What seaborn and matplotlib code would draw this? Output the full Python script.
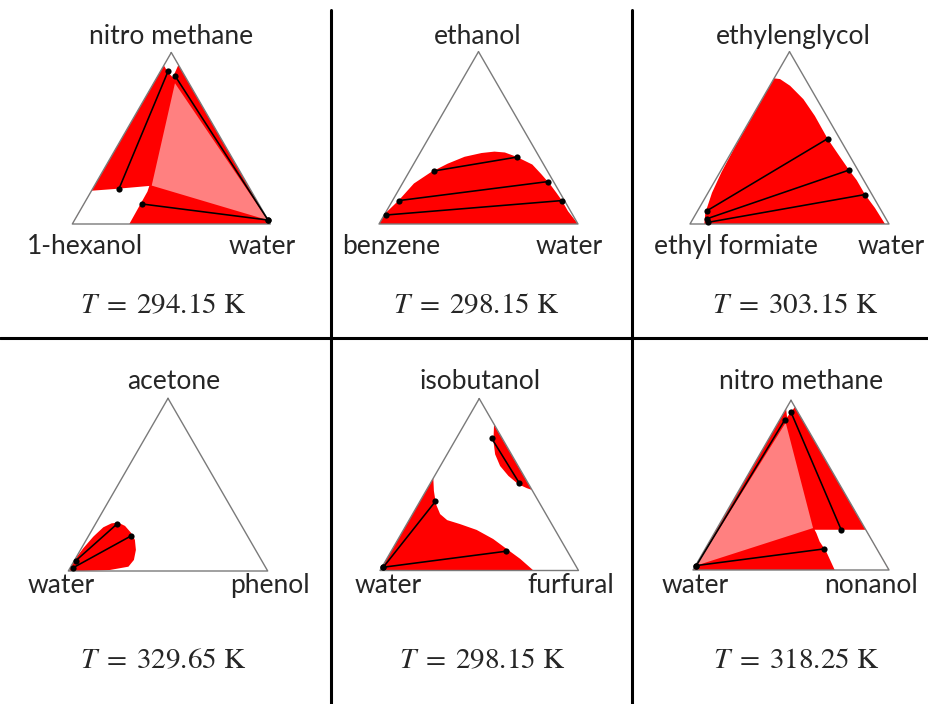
import numpy as np
import pandas as pd
import matplotlib
matplotlib.use("Agg")
import matplotlib.pyplot as plt
from matplotlib.lines import Line2D
import seaborn as sns

sns.set_style("white")
plt.rcParams["font.family"] = ["Lato", "DejaVu Sans"]
plt.rcParams["mathtext.fontset"] = "stix"

# Compositions are written as (x_top, x_right); x_left = 1 - x_top - x_right.
top_names = ["nitro methane", "ethanol", "ethylenglycol", "acetone", "isobutanol", "nitro methane"]
left_names = ["1-hexanol", "benzene", "ethyl formiate", "water", "water", "water"]
right_names = ["water", "water", "water", "phenol", "furfural", "nonanol"]
temperatures = [294.15, 298.15, 303.15, 329.65, 298.15, 318.25]

FULL = [(1.0, 0.0), (0.0, 0.0), (0.0, 1.0)]

# two-liquid regions
gap_1 = [FULL]
gap_2 = [[(0.0, 0.0), (0.060, 0.0), (0.138, 0.031), (0.235, 0.058), (0.300, 0.110), (0.350, 0.170),
          (0.390, 0.235), (0.412, 0.310), (0.420, 0.370), (0.415, 0.425), (0.390, 0.496),
          (0.345, 0.598), (0.290, 0.670), (0.230, 0.745), (0.181, 0.801), (0.138, 0.849),
          (0.074, 0.913), (0.0, 1.0)]]
gap_3 = [[(0.845, 0.0), (0.841, 0.032), (0.802, 0.102), (0.724, 0.208), (0.627, 0.314), (0.495, 0.444),
          (0.404, 0.543), (0.313, 0.643), (0.254, 0.711), (0.171, 0.794), (0.093, 0.883), (0.0, 0.980),
          (0.0, 0.072), (0.064, 0.045), (0.181, 0.020), (0.30, 0.008), (0.45, 0.002)]]
gap_4 = [[(0.006, 0.005), (0.029, 0.0), (0.068, 0.0), (0.131, 0.009), (0.199, 0.026), (0.253, 0.049),
          (0.276, 0.079), (0.280, 0.111), (0.261, 0.154), (0.222, 0.203), (0.180, 0.244),
          (0.122, 0.278), (0.064, 0.297), (0.025, 0.289), (0.006, 0.206), (0.0, 0.075), (0.0, 0.0)]]
gap_5 = [[(0.0, 0.0), (0.537, 0.0), (0.463, 0.040), (0.386, 0.089), (0.328, 0.139), (0.293, 0.192),
          (0.270, 0.268), (0.236, 0.369), (0.183, 0.479), (0.125, 0.576), (0.068, 0.672), (0.0, 0.773)],
         [(0.849, 0.150), (0.753, 0.195), (0.676, 0.242), (0.608, 0.301), (0.550, 0.372),
          (0.502, 0.446), (0.479, 0.500), (0.469, 0.530)]]
gap_6 = [FULL]
gaps = [gap_1, gap_2, gap_3, gap_4, gap_5, gap_6]

# homogeneous areas inside the two-liquid regions
holes_1 = [[(0.0, 0.0), (0.194, 0.0), (0.205, 0.12), (0.222, 0.278), (0.189, 0.285), (0.0, 0.288)],
           [(1.0, 0.0), (0.925, 0.0), (0.885, 0.04), (0.855, 0.08), (0.928, 0.072)]]
holes_6 = [[(0.237, 0.502), (0.237, 0.763), (0.0, 1.0), (0.0, 0.723), (0.108, 0.626),
            (0.168, 0.562), (0.217, 0.521)],
           [(1.0, 0.0), (0.95, 0.0), (0.90, 0.03), (0.93, 0.035), (0.96, 0.04)]]
holes = [holes_1, [], [], [], [], holes_6]

# three-liquid triangles
three_phase = [[(0.821, 0.108), (0.224, 0.289), (0.023, 0.975)], None, None, None, None,
               [(0.868, 0.039), (0.247, 0.489), (0.026, 0.004)]]

# tie lines: pairs of coexisting compositions
ties_1 = [((0.893, 0.038), (0.206, 0.133)), ((0.864, 0.087), (0.023, 0.977)),
          ((0.117, 0.292), (0.023, 0.977))]
ties_2 = [((0.308, 0.124), (0.388, 0.498)), ((0.136, 0.033), (0.246, 0.725)),
          ((0.052, 0.008), (0.136, 0.852))]
ties_3 = [((0.078, 0.048), (0.495, 0.444)), ((0.031, 0.071), (0.313, 0.643)),
          ((0.010, 0.087), (0.171, 0.794))]
ties_4 = [((0.060, 0.008), (0.274, 0.109)), ((0.019, 0.015), (0.203, 0.213))]
ties_5 = [((0.019, 0.007), (0.402, 0.078)), ((0.019, 0.007), (0.112, 0.579)),
          ((0.768, 0.179), (0.510, 0.446))]
ties_6 = [((0.884, 0.026), (0.026, 0.004)), ((0.931, 0.034), (0.233, 0.641)),
          ((0.026, 0.004), (0.124, 0.605))]
ties = [ties_1, ties_2, ties_3, ties_4, ties_5, ties_6]

# layout in pixels: bottom-left vertex, edge length, cell box
FIG_W, FIG_H = 929, 704
corners = [(72.3, 224), (379, 224), (690, 224), (68.3, 571), (380, 570.5), (693, 570)]
edges = [198, 199, 199, 199.4, 198.5, 196]
cells = [(0, 0, 331, 338), (331, 0, 632, 338), (632, 0, 929, 338),
         (0, 338, 331, 704), (331, 338, 632, 704), (632, 338, 929, 704)]
top_pos = [(171, 44), (478, 44), (793, 44), (174, 389), (480, 389), (801, 389)]
left_pos = [(84.5, 254), (391, 254), (736, 254), (61, 593), (388, 593), (695, 593)]
right_pos = [(262, 254), (569, 254), (891, 254), (269.5, 593), (571, 593), (871, 593)]
temp_pos = [(163, 313), (476, 313), (795, 313), (163, 668), (482, 668), (796, 668)]

RED = "#ff0000"
LIGHT = "#ff8080"
EDGE = "#7a7a7a"
H = np.sqrt(3) / 2


def to_xy(points):
    arr = np.asarray(points, dtype=float)
    top, right = arr[:, 0], arr[:, 1]
    return right + 0.5 * top, H * top


fig = plt.figure(figsize=(FIG_W / 100, FIG_H / 100), dpi=100)


def fig_xy(px, py):
    return px / FIG_W, 1 - py / FIG_H


for i in range(6):
    lx, by = corners[i]
    w = edges[i]
    cx0, cy0, cx1, cy1 = cells[i]
    ax = fig.add_axes([cx0 / FIG_W, 1 - cy1 / FIG_H, (cx1 - cx0) / FIG_W, (cy1 - cy0) / FIG_H])
    ax.set_xlim((cx0 - lx) / w, (cx1 - lx) / w)
    ax.set_ylim((by - cy1) / w, (by - cy0) / w)
    ax.axis("off")

    for poly in gaps[i]:
        x, y = to_xy(poly)
        ax.fill(x, y, color=RED, lw=0, zorder=1)
    for poly in holes[i]:
        x, y = to_xy(poly)
        ax.fill(x, y, color="white", lw=0, zorder=2)
    if three_phase[i] is not None:
        x, y = to_xy(three_phase[i])
        ax.fill(x, y, color=LIGHT, lw=0, zorder=3)

    x, y = to_xy(FULL + [FULL[0]])
    ax.plot(x, y, color=EDGE, lw=1.0, zorder=4)

    rows = []
    for k, (a, b) in enumerate(ties[i]):
        for p in (a, b):
            px, py = to_xy([p])
            rows.append({"x": px[0], "y": py[0], "tie": k})
    df = pd.DataFrame(rows)
    sns.lineplot(data=df, x="x", y="y", units="tie", estimator=None, sort=False,
                 color="black", lw=1.15, ax=ax, zorder=5)
    sns.scatterplot(data=df, x="x", y="y", color="black", s=20, linewidth=0, ax=ax, zorder=6)
    ax.set_xlabel("")
    ax.set_ylabel("")
    ax.axis("off")

    fs = 19
    fig.text(*fig_xy(*top_pos[i]), top_names[i], ha="center", va="baseline", fontsize=fs)
    fig.text(*fig_xy(*left_pos[i]), left_names[i], ha="center", va="baseline", fontsize=fs)
    fig.text(*fig_xy(*right_pos[i]), right_names[i], ha="center", va="baseline", fontsize=fs)
    fig.text(*fig_xy(*temp_pos[i]), rf"$T\;=\;{temperatures[i]:.2f}\ \mathrm{{K}}$",
             ha="center", va="baseline", fontsize=21)

# panel separators
for xv in (331, 632):
    fig.add_artist(Line2D([xv / FIG_W] * 2, [0, 1 - 10 / FIG_H], color="black", lw=2.2))
fig.add_artist(Line2D([0, 1], [1 - 338 / FIG_H] * 2, color="black", lw=2.2))

fig.savefig("out.png", dpi=100)
